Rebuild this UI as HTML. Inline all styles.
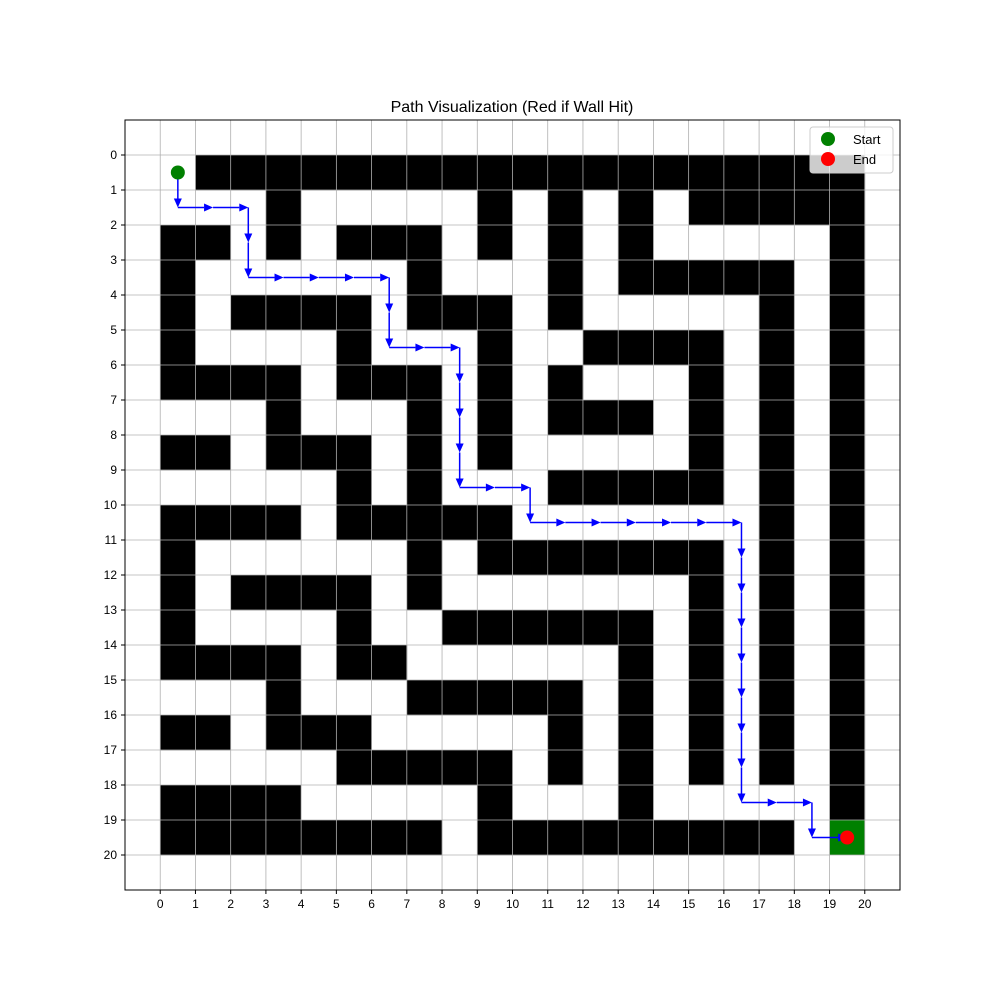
<!DOCTYPE html>
<html><head><meta charset="utf-8"><style>
html,body{margin:0;padding:0;background:#fff;}
svg{display:block;font-family:"Liberation Sans","DejaVu Sans",sans-serif;}
</style></head><body>
<svg id="chart" width="1000" height="1000" viewBox="0 0 1000 1000">
<text x="512" y="112" text-anchor="middle" font-size="16">Path Visualization (Red if Wall Hit)</text>
</svg>
<script>
// wall cells per row: list of column indices that are black
const mazeRows = [
  [1,2,3,4,5,6,7,8,9,10,11,12,13,14,15,16,17,18,19],
  [3,9,11,13,15,16,17,18,19],
  [0,1,3,5,6,7,9,11,13,19],
  [0,7,11,13,14,15,16,17,19],
  [0,2,3,4,5,7,8,9,11,17,19],
  [0,5,9,12,13,14,15,17,19],
  [0,1,2,3,5,6,7,9,11,15,17,19],
  [3,7,9,11,12,13,15,17,19],
  [0,1,3,4,5,7,9,15,17,19],
  [5,7,11,12,13,14,15,17,19],
  [0,1,2,3,5,6,7,8,9,17,19],
  [0,7,9,10,11,12,13,14,15,17,19],
  [0,2,3,4,5,7,15,17,19],
  [0,5,8,9,10,11,12,13,15,17,19],
  [0,1,2,3,5,6,13,15,17,19],
  [3,7,8,9,10,11,13,15,17,19],
  [0,1,3,4,5,11,13,15,17,19],
  [5,6,7,8,9,11,13,15,17,19],
  [0,1,2,3,9,13,19],
  [0,1,2,3,4,5,6,7,9,10,11,12,13,14,15,16,17]
];
const goalCell = [19,19];
const pathX = [0.5,0.5,1.5,2.5,2.5,2.5,3.5,4.5,5.5,6.5,6.5,6.5,7.5,8.5,8.5,8.5,8.5,8.5,9.5,10.5,10.5,11.5,12.5,13.5,14.5,15.5,16.5,16.5,16.5,16.5,16.5,16.5,16.5,16.5,16.5,17.5,18.5,18.5,19.5];
const pathY = [0.5,1.5,1.5,1.5,2.5,3.5,3.5,3.5,3.5,3.5,4.5,5.5,5.5,5.5,6.5,7.5,8.5,9.5,9.5,9.5,10.5,10.5,10.5,10.5,10.5,10.5,10.5,11.5,12.5,13.5,14.5,15.5,16.5,17.5,18.5,18.5,18.5,19.5,19.5];
const tickLabels = [0,1,2,3,4,5,6,7,8,9,10,11,12,13,14,15,16,17,18,19,20];
const legendLabels = ["Start","End"];
const legendColors = ["green","red"];

const NS="http://www.w3.org/2000/svg";
const svg=document.getElementById('chart');
const L=125,R=900,T=120,B=890;
const xs=v=>L+(v+1)/22*(R-L);
const ys=v=>T+(v+1)/22*(B-T);
function mk(tag,attrs,parent){const e=document.createElementNS(NS,tag);for(const k in attrs)e.setAttribute(k,attrs[k]);(parent||svg).appendChild(e);return e;}

const plot=mk('g',{});


const bg=mk('rect',{x:xs(0),y:ys(0),width:xs(20)-xs(0),height:ys(20)-ys(0),fill:'#fff'},plot);


mazeRows.forEach((cols,r)=>{cols.forEach(c=>{
  const e=mk('rect',{x:xs(c),y:ys(r),width:xs(c+1)-xs(c)+0.3,height:ys(r+1)-ys(r)+0.3,fill:'#000'},plot);
  
  
});});
const g=mk('rect',{x:xs(goalCell[1]),y:ys(goalCell[0]),width:xs(goalCell[1]+1)-xs(goalCell[1]),height:ys(goalCell[0]+1)-ys(goalCell[0]),fill:'green'},plot);


tickLabels.forEach(t=>{
  const a=mk('line',{x1:xs(t),x2:xs(t),y1:T,y2:B,stroke:'#b0b0b0','stroke-width':0.8},plot);
  
  
  const b=mk('line',{x1:L,x2:R,y1:ys(t),y2:ys(t),stroke:'#b0b0b0','stroke-width':0.8},plot);
  
  
});
for(let i=0;i<pathX.length-1;i++){
  const x1=xs(pathX[i]),y1=ys(pathY[i]),x2=xs(pathX[i+1]),y2=ys(pathY[i+1]);
  const dx=x2-x1,dy=y2-y1,len=Math.hypot(dx,dy),ux=dx/len,uy=dy/len;
  const hl=9,hw=4;
  const bx=x2-ux*hl,by=y2-uy*hl;
  const seg=mk('line',{x1:x1,y1:y1,x2:bx,y2:by,stroke:'blue','stroke-width':1.5},plot);
  
  
  const head=mk('polygon',{points:`${x2},${y2} ${bx-uy*hw},${by+ux*hw} ${bx+uy*hw},${by-ux*hw}`,fill:'blue'},plot);
  
  
}
const s=mk('circle',{cx:xs(pathX[0]),cy:ys(pathY[0]),r:7,fill:'green'},plot);


const n=pathX.length-1;
const en=mk('circle',{cx:xs(pathX[n]),cy:ys(pathY[n]),r:7,fill:'red'},plot);


const fr=mk('rect',{x:L,y:T,width:R-L,height:B-T,fill:'none',stroke:'#000','stroke-width':1});


tickLabels.forEach(t=>{
  const a=mk('line',{x1:xs(t),x2:xs(t),y1:B,y2:B+4,stroke:'#000'});
  
  
  const tx=mk('text',{x:xs(t),y:B+18,'text-anchor':'middle','font-size':12});
  tx.textContent=t;
  
  
  const b=mk('line',{x1:L-4,x2:L,y1:ys(t),y2:ys(t),stroke:'#000'});
  
  
  const ty=mk('text',{x:L-8,y:ys(t)+4,'text-anchor':'end','font-size':12});
  ty.textContent=t;
  
  
});
const lg=mk('g',{});


const lb=mk('rect',{x:810,y:127,width:83,height:46,rx:3,fill:'rgba(255,255,255,0.8)',stroke:'#ccc'},lg);


legendLabels.forEach((lab,i)=>{
  const c=mk('circle',{cx:828,cy:139+i*20,r:7,fill:legendColors[i]},lg);
  
  
  const t=mk('text',{x:853,y:144+i*20,'font-size':13},lg);
  t.textContent=lab;
  
  
});
</script>
</body></html>
